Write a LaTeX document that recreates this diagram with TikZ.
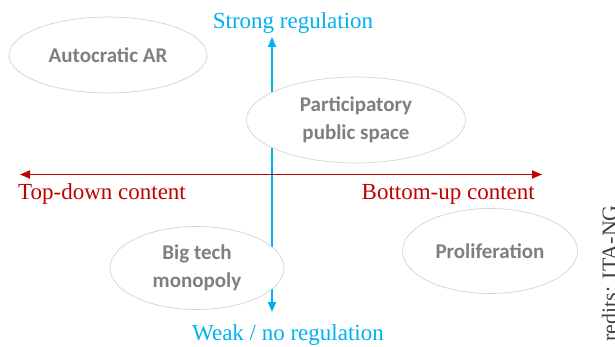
\documentclass[tikz,border=0pt]{standalone}
\usepackage{fontspec}
\setmainfont{Liberation Serif}
\newfontfamily\bubblefont{Carlito}
\usetikzlibrary{shapes.geometric,arrows.meta}

\definecolor{regblue}{HTML}{00B0F0}
\definecolor{contred}{HTML}{C00000}
\definecolor{bubblegray}{HTML}{7F7F7F}
\definecolor{rimgray}{HTML}{D3D3D3}
\definecolor{credgray}{HTML}{404040}

\begin{document}
\begin{tikzpicture}[x=1pt, y=-1pt,
    bubble/.style={ellipse, draw=rimgray, line width=0.7pt, fill=white, inner sep=0pt,
        text=bubblegray, align=center, font=\bubblefont\bfseries\fontsize{21}{28}\selectfont},
    axislabel/.style={inner sep=0pt, font=\fontsize{23}{27}\selectfont},
    tip/.style={Triangle[length=10pt, width=8pt]}]

    \useasboundingbox (0,0) rectangle (615,347);

    % Regulation axis (vertical), ends of both axes
    \coordinate (regTop) at (272,37);
    \coordinate (regBot) at (272,312);
    \coordinate (contLeft) at (20,174.5);
    \coordinate (contRight) at (542,174.5);

    \draw[regblue, line width=1.8pt, {Triangle[length=10pt, width=8pt]}-{Triangle[length=10pt, width=8pt]}]
        (regBot) -- (regTop);

    % Bubbles (white fill hides the axis behind them)
    \node[bubble, minimum width=198pt, minimum height=76pt] (autocratic) at (108,55) {Autocratic AR};
    \node[bubble, minimum width=219pt, minimum height=86pt] (participatory) at (356,120) {Participatory\\public space};
    \node[bubble, minimum width=174pt, minimum height=83pt] (bigtech) at (197,268) {Big tech\\monopoly};
    \node[bubble, minimum width=175pt, minimum height=85pt] (proliferation) at (490,251) {Proliferation};

    % Content axis (horizontal)
    \draw[contred, line width=1.8pt, {Triangle[length=10pt, width=8pt]}-{Triangle[length=10pt, width=8pt]}]
        (contLeft) -- (contRight);

    % Axis labels
    \node[axislabel, regblue, anchor=base] (strong) at (293,29) {Strong regulation};
    \node[axislabel, regblue, anchor=base] (weak) at (288,340) {Weak / no regulation};
    \node[axislabel, contred, anchor=base west] (topdown) at (18,200) {Top-down content};
    \node[axislabel, contred, anchor=base east] (bottomup) at (535,200) {Bottom-up content};

    % Credits along the right edge
    \node[rotate=90, anchor=base east, inner sep=0pt, text=credgray,
        font=\fontsize{22}{26}\selectfont] (credits) at (617,205) {redits: ITA-NG};

\end{tikzpicture}
\end{document}
